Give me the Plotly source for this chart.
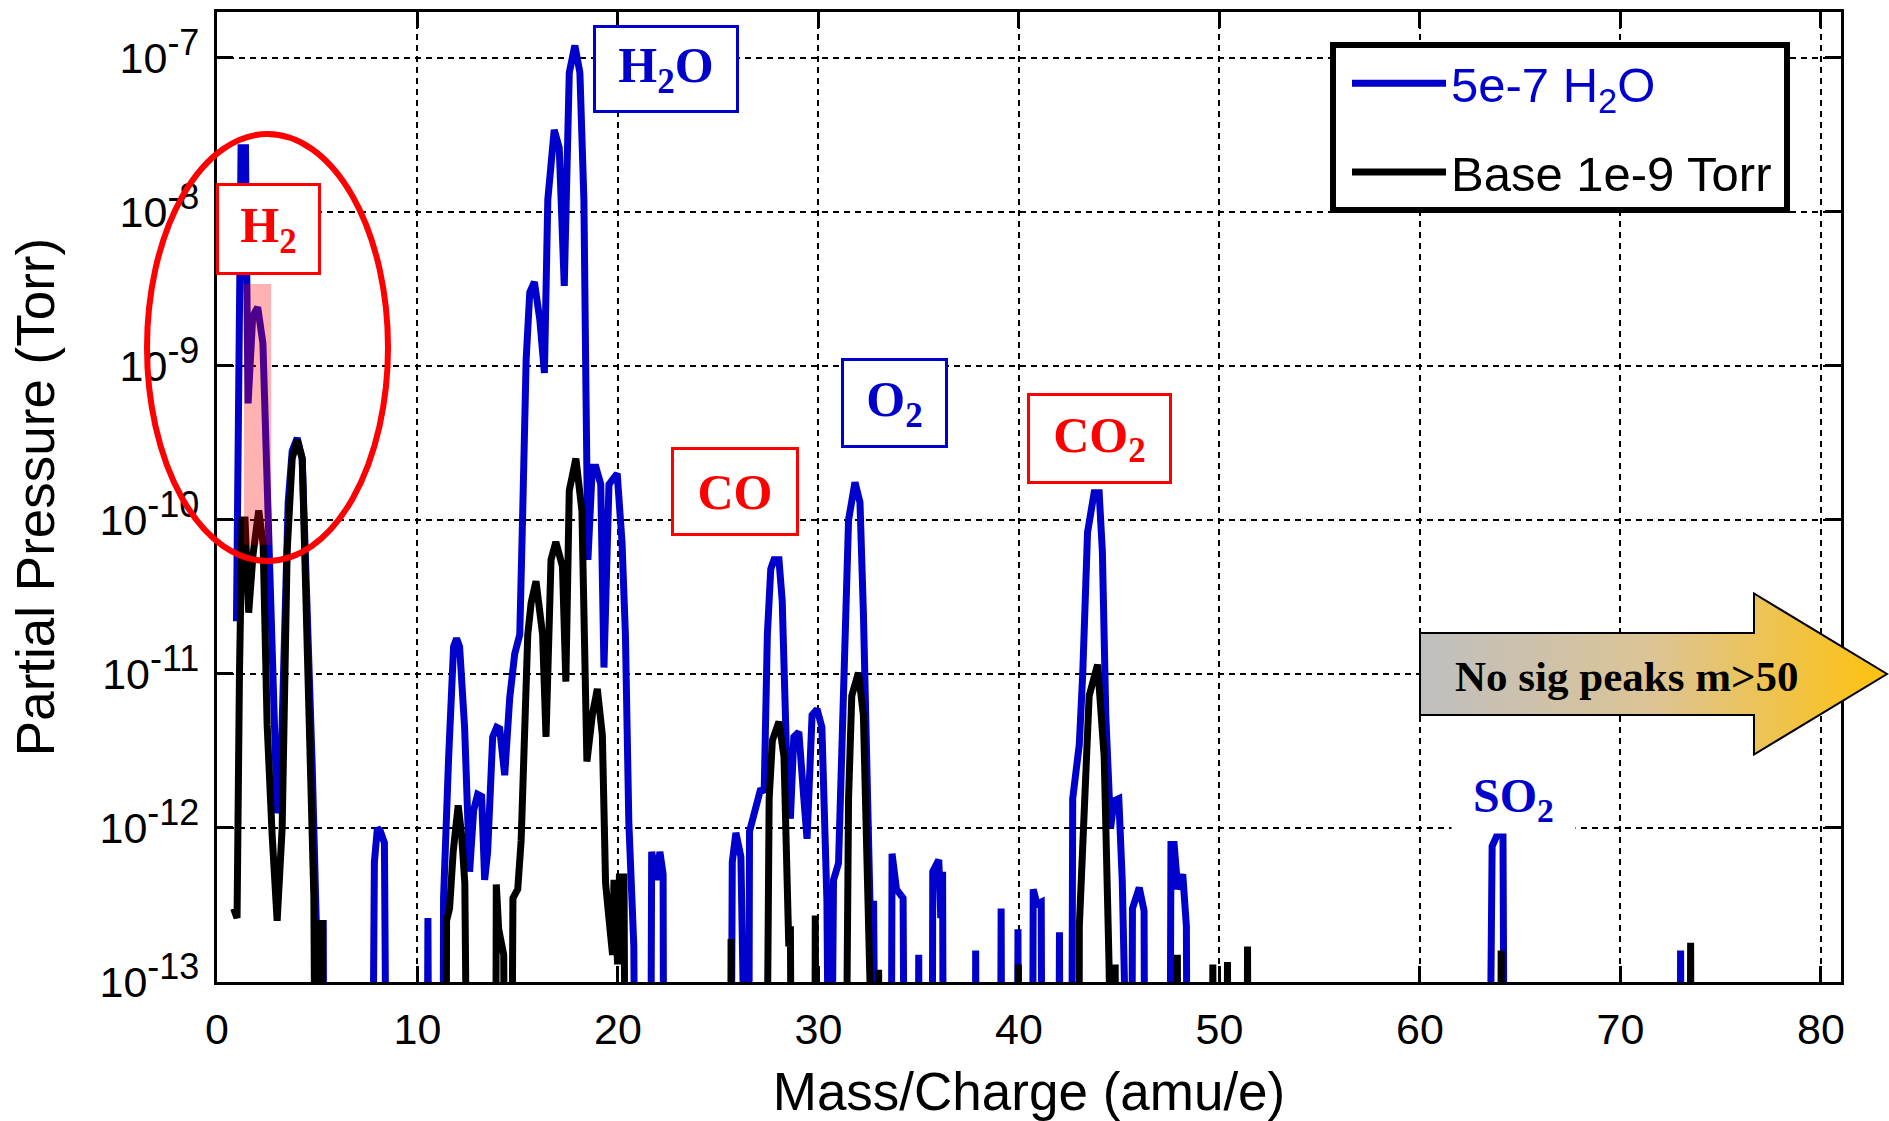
import base64
import plotly.graph_objects as go

# ---------------- data ----------------
OFF = 1e-15  # below the axis floor -> line drops out of view

h2o_mass = [0.97, 1.1, 1.2, 1.42, 1.47, 1.55, 1.78, 2.03, 2.29, 2.45, 2.75, 3.0, 3.15, 3.35, 3.55, 3.75, 4.0, 4.25, 4.5, 4.75, 4.95, 5.05, 5.3, 5.35,
            7.7, 7.85, 8.0, 8.15, 8.35, 8.5,
            10.45, 10.52, 10.6,
            11.25, 11.3, 11.55, 11.8, 11.95, 12.1, 12.35, 12.6, 12.8, 13.0, 13.2, 13.35, 13.5, 13.75, 13.95, 14.1, 14.35, 14.6, 14.85, 15.1,
            15.25, 15.42, 15.6, 15.83, 16.1, 16.33, 16.5, 16.82, 17.07, 17.32, 17.57, 17.85, 18.1, 18.3, 18.4, 18.5, 18.72, 18.9, 19.14,
            19.3, 19.55, 19.96, 20.2, 20.37, 20.54, 20.79, 20.9,
            21.6, 21.68, 21.92, 22.09, 22.25, 22.3,
            25.6, 25.7, 25.88, 26.13, 26.35,
            26.5, 26.56, 26.79, 26.96, 27.12, 27.29, 27.45, 27.62, 27.78, 28.03, 28.19, 28.44, 28.6, 28.77, 29.02, 29.27, 29.43, 29.68,
            29.93, 30.17, 30.34, 30.42, 30.58, 30.75, 31.0, 31.16, 31.33, 31.5, 31.82, 32.07, 32.24, 32.4, 32.57, 32.75, 32.9,
            33.6, 33.67, 33.89, 34.22, 34.33,
            34.95, 35.0, 35.05,
            35.65, 35.7, 36.0, 36.1, 36.19, 36.25,
            37.8, 37.84, 37.9,
            39.05, 39.11, 39.17,
            39.9, 39.95, 40.0,
            40.65, 40.71, 40.9, 41.11, 41.17,
            41.95, 42.02, 42.08,
            42.6, 42.68, 43.01, 43.18, 43.42, 43.75, 44.0, 44.16, 44.33, 44.57, 44.74, 44.98, 45.15, 45.31,
            45.6, 45.66, 45.9, 46.0, 46.24, 46.3,
            47.5, 47.58, 47.74, 47.92, 48.17, 48.35, 48.42,
            63.4, 63.6, 63.93, 64.14, 64.24,
            72.95, 73.0, 73.08, 80.0]
h2o_torr = [2.2e-11, 1e-9, 2.6e-8, 2.6e-8, 1.5e-9, 5.7e-10, 2.1e-9, 2.4e-9, 1.4e-9, 2.5e-10, 1.1e-11, 1.25e-12, 1.6e-12, 1.5e-11, 1.3e-10, 2.8e-10, 3.4e-10, 2.5e-10, 3e-11, 2.5e-12, 2.5e-13, 2.4e-13, 2.4e-13, OFF,
            OFF, 6e-13, 1e-12, 9.5e-13, 8e-13, OFF,
            OFF, 2.6e-13, OFF,
            OFF, 3.5e-13, 2.8e-12, 1.5e-11, 1.7e-11, 1.5e-11, 4.5e-12, 5.2e-13, 1.3e-12, 1.65e-12, 1.6e-12, 4.6e-13, 7e-13, 3.9e-12, 4.5e-12, 4.4e-12, 2.2e-12, 7e-12, 1.35e-11, 1.8e-11,
            1.15e-10, 1.1e-9, 3e-9, 3.5e-9, 2e-9, 9e-10, 1.2e-8, 3.4e-8, 2.6e-8, 3.3e-9, 8e-8, 1.2e-7, 8e-8, 1.2e-8, 7.4e-10, 5.5e-11, 2.2e-10, 2.2e-10, 1.7e-10,
            1.1e-11, 1.7e-10, 2e-10, 7.2e-11, 1.8e-11, 1.1e-12, 1.7e-13, OFF,
            OFF, 7e-13, 4.6e-13, 7e-13, 5e-13, OFF,
            OFF, 6e-13, 9.3e-13, 6.5e-13, OFF,
            OFF, 9.5e-13, 1.2e-12, 1.4e-12, 1.8e-12, 1.7e-12, 1.8e-11, 4.8e-11, 5.5e-11, 5.5e-11, 3e-11, 2.1e-12, 1.15e-12, 3.9e-12, 4.2e-12, 1.55e-12, 8.5e-13, 5.4e-12,
            5.9e-12, 4.5e-12, 1.15e-12, 3.4e-13, OFF, 4.6e-13, 5.9e-13, 2.9e-12, 1.8e-11, 1e-10, 1.75e-10, 1.3e-10, 2.5e-11, 2.9e-12, 3.2e-13, 3.2e-13, OFF,
            OFF, 6.8e-13, 4e-13, 3.5e-13, OFF,
            OFF, 1.5e-13, OFF,
            OFF, 5.2e-13, 6.2e-13, 2.6e-13, 5.2e-13, OFF,
            OFF, 1.6e-13, OFF,
            OFF, 3e-13, OFF,
            OFF, 2.2e-13, OFF,
            OFF, 4e-13, 3.2e-13, 3.3e-13, OFF,
            OFF, 2.1e-13, OFF,
            OFF, 1.55e-12, 3.5e-12, 1e-11, 8.3e-11, 1.5e-10, 1.5e-10, 6.2e-11, 5.4e-12, 1e-12, 1.5e-12, 1.55e-12, 4.6e-13, OFF,
            OFF, 3e-13, 4e-13, 4.1e-13, 2.9e-13, OFF,
            OFF, 7.8e-13, 7.8e-13, 4e-13, 5e-13, 2.3e-13, OFF,
            OFF, 7.6e-13, 9.5e-13, 9.5e-13, OFF,
            OFF, 1.6e-13, OFF, OFF]

base_mass = [0.83, 1.0, 1.12, 1.25, 1.4, 1.58, 1.8, 2.08, 2.3, 2.5, 2.75, 3.0, 3.25, 3.5, 3.75, 4.0, 4.25, 4.42, 4.67, 4.83, 4.95, 5.0, 5.25, 5.3,
             11.4, 11.45, 11.6, 11.78, 12.03, 12.2, 12.36, 12.55,
             13.88, 13.93, 14.05, 14.3, 14.4,
             14.65, 14.76, 15.0, 15.17, 15.33, 15.5, 15.67, 15.91, 16.24, 16.41, 16.66, 16.9, 17.23, 17.4, 17.57, 17.9, 18.2, 18.31, 18.45,
             18.72, 18.97, 19.22, 19.38, 19.5, 19.73, 19.8, 19.98, 20.07, 20.3, 20.4,
             25.6, 25.64, 25.7,
             27.35, 27.45, 27.54, 27.7, 28.03, 28.28, 28.44, 28.52, 28.6, 28.68,
             29.8, 29.84, 29.9,
             31.3, 31.5, 31.66, 31.99, 32.24, 32.4, 32.57, 32.65,
             32.95, 33.0, 33.05,
             39.93, 39.97, 40.02,
             42.98, 43.01, 43.26, 43.5, 43.92, 44.25, 44.49, 44.6,
             44.75, 44.8, 44.85,
             47.85, 47.9, 47.95,
             49.6, 49.67, 49.75,
             50.35, 50.4, 50.45,
             51.35, 51.4, 51.45,
             64.0, 64.05, 64.1,
             73.45, 73.5, 73.55, 80.0]
base_torr = [3e-13, 2.6e-13, 1e-11, 1e-10, 1e-10, 2.5e-11, 6e-11, 1.15e-10, 7e-11, 4.7e-12, 9e-13, 2.5e-13, 1e-12, 6.3e-11, 2.5e-10, 3.3e-10, 2.5e-10, 4e-11, 4.7e-12, 3.6e-13, OFF, 2.4e-13, 2.4e-13, OFF,
             OFF, 2.5e-13, 3e-13, 7e-13, 1.4e-12, 9e-13, 4.4e-13, OFF,
             OFF, 4.3e-13, 2.2e-13, 1.5e-13, OFF,
             OFF, 3.5e-13, 4e-13, 8.3e-13, 2.8e-12, 1.8e-11, 2.9e-11, 4e-11, 1.8e-11, 3.9e-12, 5.5e-11, 7.2e-11, 5e-11, 8.9e-12, 1.55e-10, 2.5e-10, 1.15e-10, 1.1e-11, 2.7e-12,
             5.4e-12, 8e-12, 4e-12, 4.4e-13, 3e-13, 1.5e-13, 4.6e-13, 1.3e-13, 4.8e-13, 4.8e-13, OFF,
             OFF, 1.9e-13, OFF,
             OFF, 2e-13, 1.55e-12, 3.7e-12, 4.9e-12, 2.9e-12, 6.3e-13, 1.7e-13, 2.3e-13, OFF,
             OFF, 2.7e-13, OFF,
             OFF, 1.55e-12, 7.2e-12, 1.02e-11, 5.4e-12, 8.5e-13, 1.2e-13, OFF,
             OFF, 1.2e-13, OFF,
             OFF, 1.3e-13, OFF,
             OFF, 2.3e-13, 1.55e-12, 7.2e-12, 1.15e-11, 2.9e-12, 1.35e-13, OFF,
             OFF, 1.3e-13, OFF,
             OFF, 1.5e-13, OFF,
             OFF, 1.3e-13, OFF,
             OFF, 1.35e-13, OFF,
             OFF, 1.7e-13, OFF,
             OFF, 1.6e-13, OFF,
             OFF, 1.8e-13, OFF, OFF]

series_names = ['<span style="color:#0000cc">5e-7 H<sub>2</sub>O</span>', 'Base 1e-9 Torr']
x_ticks = [0, 10, 20, 30, 40, 50, 60, 70, 80]
y_ticks = [1e-13, 1e-12, 1e-11, 1e-10, 1e-9, 1e-8, 1e-7]
y_exponents = ['-13', '-12', '-11', '-10', '-9', '-8', '-7']
y_ticktext = ['10<sup><span style="font-size:36px">%s</span></sup>' % e for e in y_exponents]

# gas labels: (text, mass, log10 pressure, colour, box width, box height)
gas_labels = [
    ('H<sub>2</sub>', 2.59, -8.109, '#ff0000', 99, 86),
    ('H<sub>2</sub>O', 22.37, -7.073, '#0000cc', 140, 82),
    ('CO', 25.84, -9.815, '#ff0000', 122, 83),
    ('O<sub>2</sub>', 33.77, -9.24, '#0000cc', 101, 84),
    ('CO<sub>2</sub>', 44.04, -9.47, '#ff0000', 139, 85),
]

BLUE = '#0000cc'
SANS = 'Arial, Liberation Sans, sans-serif'
SERIF = 'Times New Roman, Liberation Serif, serif'

fig = go.Figure()
fig.add_trace(go.Scatter(x=h2o_mass, y=h2o_torr, mode='lines', name=series_names[0],
                         line=dict(color=BLUE, width=7), legendgroup='a'))
fig.add_trace(go.Scatter(x=base_mass, y=base_torr, mode='lines', name=series_names[1],
                         line=dict(color='black', width=7), legendgroup='b'))

W, H = 1889, 1121
L, R, T, B = 217, 48, 12, 139
pw, ph = W - L - R, H - T - B

fig.update_layout(
    width=W, height=H,
    margin=dict(l=L, r=R, t=T, b=B, autoexpand=False),
    paper_bgcolor='white', plot_bgcolor='white',
    font=dict(family=SANS, color='black'),
    showlegend=True,
    legend=dict(x=(1342 - L) / pw, y=1 - (40 - T) / ph,
                xanchor='left', yanchor='top',
                bgcolor='rgba(0,0,0,0)', bordercolor='rgba(0,0,0,0)', borderwidth=5,
                font=dict(size=49, family=SANS, color='black'),
                itemwidth=94, tracegroupgap=22),
)

# legend frame (white box with heavy black border behind the legend entries)
fig.add_shape(type='rect', xref='paper', yref='paper',
              x0=(1333 - L) / pw, x1=(1787 - L) / pw, y0=1 - (210 - T) / ph, y1=1 - (45 - T) / ph,
              fillcolor='white', line=dict(color='black', width=6), layer='above')

axis_common = dict(showline=True, linecolor='black', linewidth=3, mirror='ticks',
                   ticks='inside', ticklen=16, tickwidth=3, tickcolor='black',
                   showgrid=True, gridcolor='black', gridwidth=2, griddash='6px,5px',
                   zeroline=False, tickfont=dict(size=43, family=SANS, color='black'),
                   automargin=False)

fig.update_xaxes(range=[0, 81], tickvals=x_ticks,
                 title=dict(text='Mass/Charge (amu/e)', font=dict(size=53, family=SANS), standoff=29),
                 ticklabelstandoff=7, **axis_common)
fig.update_yaxes(type='log', range=[-13, -6.703], tickvals=y_ticks, ticktext=y_ticktext,
                 title=dict(text='Partial Pressure (Torr)', font=dict(size=53, family=SANS), standoff=28),
                 ticklabelstandoff=6, **axis_common)

for text, mx, ly, col, bw, bh in gas_labels:
    fig.add_annotation(x=mx, y=ly, xref='x', yref='y', text=text, showarrow=False,
                       xanchor='center', yanchor='middle',
                       font=dict(family=SERIF, size=50, color=col, weight='bold'),
                       bordercolor=col, borderwidth=3, borderpad=0, bgcolor='white',
                       width=bw, height=bh, align='center', valign='middle')

fig.add_annotation(x=64.69, y=-11.815, xref='x', yref='y', text='SO<sub>2</sub>', showarrow=False,
                   xanchor='center', yanchor='middle',
                   font=dict(family=SERIF, size=48, color=BLUE, weight='bold'),
                   bgcolor='white', borderpad=4, width=115, height=60)

# highlight on the H2 peak and ring around the H2 region
fig.add_shape(type='rect', xref='x', yref='y', x0=1.35, x1=2.7, y0=6.9e-11, y1=3.4e-9,
              fillcolor='rgba(255,0,0,0.3)', line=dict(width=0), layer='above')
fig.add_shape(type='circle', xref='paper', yref='paper',
              x0=(147 - L) / pw, x1=(388 - L) / pw, y0=1 - (561 - T) / ph, y1=1 - (134 - T) / ph,
              line=dict(color='#ff0000', width=6), layer='above')

# gradient arrow
svg = ('<svg xmlns="http://www.w3.org/2000/svg" width="470" height="164" viewBox="0 0 470 164" '
       'preserveAspectRatio="none"><defs><linearGradient id="g" x1="0" y1="0" x2="1" y2="0">'
       '<stop offset="0" stop-color="#bfbfbf"/><stop offset="0.5" stop-color="#dcc495"/>'
       '<stop offset="1" stop-color="#ffc20e"/></linearGradient></defs>'
       '<polygon points="1,41 335,41 335,1.5 468,82 335,162.5 335,123 1,123" fill="url(#g)" '
       'stroke="black" stroke-width="2"/></svg>')
src = 'data:image/svg+xml;base64,' + base64.b64encode(svg.encode()).decode()
fig.add_layout_image(source=src, xref='paper', yref='paper',
                     x=(1419 - L) / pw, y=1 - (592 - T) / ph, sizex=(1889 - 1419) / pw, sizey=164 / ph,
                     xanchor='left', yanchor='top', sizing='stretch', layer='above')
fig.add_annotation(x=(1626 - L) / pw, y=1 - (676 - T) / ph, xref='paper', yref='paper',
                   xanchor='center', yanchor='middle',
                   text='No sig peaks m>50', showarrow=False,
                   font=dict(family=SERIF, size=43, color='black', weight='bold'))

fig.write_html('out.html')
